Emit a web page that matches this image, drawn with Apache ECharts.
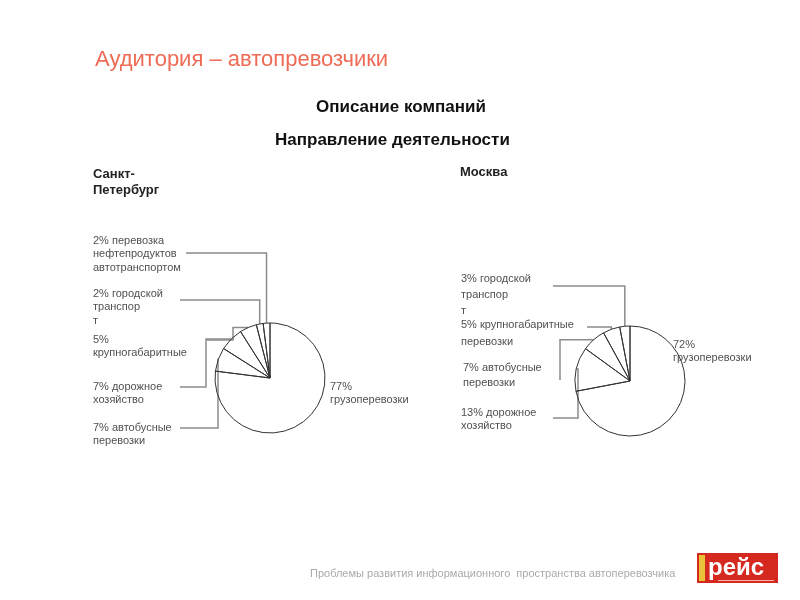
<!DOCTYPE html>
<html>
<head>
    <meta charset="utf-8">
    <title>Аудитория – автопревозчики</title>
    <script src="https://cdn.jsdelivr.net/npm/echarts@6/dist/echarts.min.js"></script>
    <style>
        html, body { margin: 0; padding: 0; background: #fff; }
    </style>
</head>
<body>
    <div id="main" style="width: 800px;height:600px;"></div>
    <script type="text/javascript">
        // данные: Санкт-Петербург
        var spbNames = ['перевозка\nнефтепродуктов\nавтотранспортом', 'городской\nтранспор\nт', '\nкрупногабаритные',
            'дорожное\nхозяйство', 'автобусные\nперевозки', '\nгрузоперевозки'];
        var spbValues = [2, 2, 5, 7, 7, 77];

        // данные: Москва
        var mskNames = ['городской\nтранспор\nт', 'крупногабаритные\nперевозки', 'автобусные\nперевозки',
            'дорожное\nхозяйство', '\nгрузоперевозки'];
        var mskValues = [3, 5, 7, 13, 72];

        // где стоят подписи и как идут выноски
        var spbLabelPos = [
            {x: 93, y: 234, lineY: 253, endX: 186},
            {x: 93, y: 287, lineY: 300, endX: 180},
            {x: 93, y: 333, kneeX: 233, lineY: 340, endX: 207},
            {x: 93, y: 380, kneeX: 206, lineY: 387, endX: 180},
            {x: 93, y: 421, kneeX: 218, lineY: 428, endX: 180},
            {x: 330, y: 380, noLine: true}
        ];
        var mskLabelPos = [
            {x: 461, y: 271, lineY: 286, endX: 553, lh: 16},
            {x: 461, y: 316, lineY: 327, endX: 587, lh: 17},
            {x: 463, y: 360, kneeX: 560, lineY: 380, endX: 560, lh: 15},
            {x: 461, y: 406, kneeX: 578, lineY: 418, endX: 553, lh: 13},
            {x: 673, y: 338, noLine: true}
        ];

        var textColor = '#505050';
        var font = 'Liberation Sans, Arial, sans-serif';

        function buildData(names, values, pos) {
            return values.map(function (v, i) {
                var item = {
                    name: names[i],
                    value: v,
                    label: {lineHeight: pos[i].lh || 13.5}
                };
                if (pos[i].noLine) item.labelLine = {show: false};
                return item;
            });
        }

        function makeLayout(pos) {
            return function (params) {
                var p = pos[params.dataIndex];
                var res = {x: p.x, y: p.y, align: 'left', verticalAlign: 'top'};
                if (!p.noLine && params.labelLinePoints) {
                    var e = params.labelLinePoints[0];
                    var kx = p.kneeX != null ? p.kneeX : e[0];
                    res.labelLinePoints = [
                        [e[0], e[1]],
                        [kx, e[1]],
                        [kx, p.lineY],
                        [p.endX, p.lineY]
                    ];
                }
                return res;
            };
        }

        function pieSeries(name, center, names, values, pos) {
            return {
                name: name,
                type: 'pie',
                center: center,
                radius: 55,
                startAngle: 90,
                clockwise: false,
                avoidLabelOverlap: false,
                silent: true,
                itemStyle: {
                    color: 'rgba(0,0,0,0)',
                    borderColor: '#333',
                    borderWidth: 1
                },
                label: {
                    show: true,
                    position: 'outside',
                    formatter: function (p) { return p.value + '% ' + p.name; },
                    color: textColor,
                    fontSize: 11,
                    fontFamily: font
                },
                labelLine: {
                    show: true,
                    length: 10,
                    length2: 10,
                    lineStyle: {color: '#8c8c8c', width: 1.5}
                },
                labelLayout: makeLayout(pos),
                emphasis: {disabled: true},
                data: buildData(names, values, pos)
            };
        }

        var myChart = echarts.init(document.getElementById('main'));
        myChart.setOption({
            animation: false,
            backgroundColor: '#fff',
            title: [
                {
                    text: 'Аудитория – автопревозчики',
                    left: 90, top: 44,
                    textStyle: {color: '#EE6B55', fontSize: 22, fontWeight: 'normal', fontFamily: font}
                },
                {
                    text: 'Описание компаний',
                    left: 311, top: 94,
                    textStyle: {color: '#111', fontSize: 17, fontWeight: 'bold', fontFamily: font}
                },
                {
                    text: 'Направление деятельности',
                    left: 270, top: 127,
                    textStyle: {color: '#111', fontSize: 17, fontWeight: 'bold', fontFamily: font}
                },
                {
                    text: 'Санкт-\nПетербург',
                    left: 88, top: 161,
                    textStyle: {color: '#222', fontSize: 13, fontWeight: 'bold', lineHeight: 16, fontFamily: font}
                },
                {
                    text: 'Москва',
                    left: 455, top: 161,
                    textStyle: {color: '#222', fontSize: 13, fontWeight: 'bold', fontFamily: font}
                },
                {
                    text: 'Проблемы развития информационного  пространства автоперевозчика',
                    left: 305, top: 563,
                    textStyle: {color: '#aaaaaa', fontSize: 11, fontWeight: 'normal', fontFamily: font}
                }
            ],
            graphic: [
                {
                    type: 'rect',
                    shape: {x: 697, y: 553, width: 81, height: 30},
                    style: {fill: '#D5281E'}
                },
                {
                    type: 'rect',
                    shape: {x: 699, y: 555, width: 6, height: 26},
                    style: {fill: '#E9C23A'}
                },
                {
                    type: 'text',
                    x: 708, y: 568,
                    style: {
                        text: 'рейс', fill: '#fff', verticalAlign: 'middle',
                        font: 'bold 24px Liberation Sans, Arial, sans-serif'
                    }
                },
                {
                    type: 'rect',
                    shape: {x: 718, y: 580, width: 56, height: 1},
                    style: {fill: '#f3b3ad'}
                }
            ],
            series: [
                pieSeries('Санкт-Петербург', [270, 378], spbNames, spbValues, spbLabelPos),
                pieSeries('Москва', [630, 381], mskNames, mskValues, mskLabelPos)
            ]
        });
    </script>
</body>
</html>
